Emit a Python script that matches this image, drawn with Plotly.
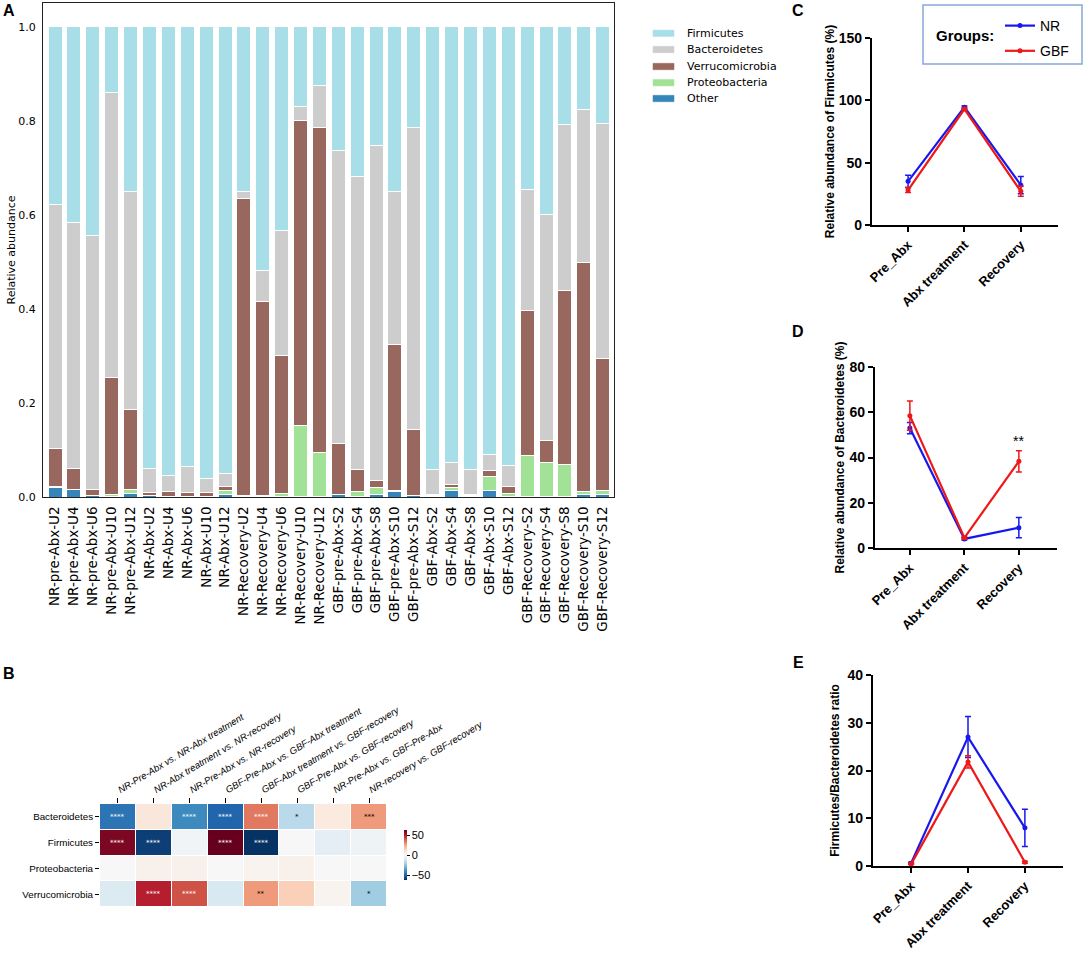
import plotly.graph_objects as go

W, H = 1084, 953

# ---------------- Panel A data ----------------
samples = [
    "NR-pre-Abx-U2", "NR-pre-Abx-U4", "NR-pre-Abx-U6", "NR-pre-Abx-U10", "NR-pre-Abx-U12",
    "NR-Abx-U2", "NR-Abx-U4", "NR-Abx-U6", "NR-Abx-U10", "NR-Abx-U12",
    "NR-Recovery-U2", "NR-Recovery-U4", "NR-Recovery-U6", "NR-Recovery-U10", "NR-Recovery-U12",
    "GBF-pre-Abx-S2", "GBF-pre-Abx-S4", "GBF-pre-Abx-S8", "GBF-pre-Abx-S10", "GBF-pre-Abx-S12",
    "GBF-Abx-S2", "GBF-Abx-S4", "GBF-Abx-S8", "GBF-Abx-S10", "GBF-Abx-S12",
    "GBF-Recovery-S2", "GBF-Recovery-S4", "GBF-Recovery-S8", "GBF-Recovery-S10", "GBF-Recovery-S12",
]
other = [0.021, 0.016, 0.003, 0.001, 0.007, 0.003, 0.001, 0.001, 0.001, 0.005,
         0.002, 0.001, 0.001, 0.001, 0.001, 0.005, 0.002, 0.006, 0.012, 0.003,
         0.001, 0.013, 0.002, 0.013, 0.001, 0.001, 0.001, 0.001, 0.005, 0.005]
proteobacteria = [0.001, 0.001, 0.001, 0.005, 0.009, 0.001, 0.001, 0.001, 0.001, 0.008,
                  0.002, 0.002, 0.006, 0.151, 0.093, 0.001, 0.009, 0.015, 0.001, 0.001,
                  0.003, 0.007, 0.001, 0.031, 0.007, 0.088, 0.073, 0.069, 0.007, 0.008]
verrucomicrobia = [0.081, 0.043, 0.012, 0.248, 0.171, 0.005, 0.009, 0.007, 0.007, 0.010,
                   0.631, 0.412, 0.294, 0.649, 0.693, 0.107, 0.048, 0.014, 0.311, 0.140,
                   0.002, 0.006, 0.003, 0.013, 0.015, 0.308, 0.047, 0.370, 0.486, 0.281]
bacteroidetes = [0.520, 0.523, 0.541, 0.606, 0.462, 0.051, 0.035, 0.055, 0.030, 0.027,
                 0.016, 0.067, 0.265, 0.029, 0.089, 0.625, 0.623, 0.712, 0.326, 0.643,
                 0.052, 0.047, 0.052, 0.034, 0.044, 0.258, 0.480, 0.353, 0.326, 0.500]
firmicutes = [0.377, 0.417, 0.443, 0.140, 0.351, 0.940, 0.954, 0.936, 0.961, 0.950,
              0.349, 0.518, 0.434, 0.170, 0.124, 0.262, 0.318, 0.253, 0.350, 0.213,
              0.942, 0.927, 0.942, 0.909, 0.933, 0.345, 0.399, 0.207, 0.176, 0.206]
taxa_stack = ["Other", "Proteobacteria", "Verrucomicrobia", "Bacteroidetes", "Firmicutes"]
taxa_values = [other, proteobacteria, verrucomicrobia, bacteroidetes, firmicutes]
taxa_colors = ["#3585bb", "#a2e296", "#98675d", "#cdcdcd", "#a8dee8"]
legend_order = ["Firmicutes", "Bacteroidetes", "Verrucomicrobia", "Proteobacteria", "Other"]

# ---------------- Panel B data ----------------
comparisons = [
    "NR-Pre-Abx vs. NR-Abx treatment",
    "NR-Abx treatment vs. NR-recovery",
    "NR-Pre-Abx vs. NR-recovery",
    "GBF-Pre-Abx vs. GBF-Abx treatment",
    "GBF-Abx treatment vs. GBF-recovery",
    "GBF-Pre-Abx vs. GBF-recovery",
    "NR-Pre-Abx vs. GBF-Pre-Abx",
    "NR-recovery vs. GBF-recovery",
]
phyla = ["Bacteroidetes", "Firmicutes", "Proteobacteria", "Verrucomicrobia"]
diff_bacteroidetes = [-46, 7, -40, -50, 33, -17, 6, 27]
diff_firmicutes = [59, -59, -2, 65, -62, 0, -6, -3]
diff_proteobacteria = [0, 3, 3, 0, 2, 3, 0, 0]
diff_verrucomicrobia = [-9, 49, 40, -10, 27, 15, 2, -22]
sig_bacteroidetes = ["****", "", "****", "****", "****", "*", "", "***"]
sig_firmicutes = ["****", "****", "", "****", "****", "", "", ""]
sig_proteobacteria = ["", "", "", "", "", "", "", ""]
sig_verrucomicrobia = ["", "****", "****", "", "**", "", "", "*"]
cbar_ticks = [-50, 0, 50]

# ---------------- Panels C-E data ----------------
stages = ["Pre_Abx", "Abx treatment", "Recovery"]
groups = ["NR", "GBF"]
group_colors = {"NR": "#1818ee", "GBF": "#ee1818"}
firm_mean = {"NR": [35, 94.5, 32], "GBF": [28, 93, 27]}
firm_err = {"NR": [5, 1, 7], "GBF": [2, 1, 4]}
bact_mean = {"NR": [53, 4, 9], "GBF": [58.5, 4.5, 38.3]}
bact_err = {"NR": [2.5, 0.5, 4.5], "GBF": [6.5, 0.5, 4.7]}
ratio_mean = {"NR": [0.6, 27, 8], "GBF": [0.4, 21.8, 0.8]}
ratio_err = {"NR": [0.2, 4.3, 3.9], "GBF": [0.1, 1.3, 0.2]}

HMFONT = "Liberation Sans, Arial"

fig = go.Figure()

# ---- A: stacked bars ----
for name, vals, col in zip(taxa_stack, taxa_values, taxa_colors):
    fig.add_trace(go.Bar(
        x=samples, y=vals, name=name, xaxis="x", yaxis="y", showlegend=False,
        marker=dict(color=col, line=dict(color="white", width=1)),
    ))

# ---- B: heatmap ----
z = [diff_bacteroidetes, diff_firmicutes, diff_proteobacteria, diff_verrucomicrobia]
sig = [sig_bacteroidetes, sig_firmicutes, sig_proteobacteria, sig_verrucomicrobia]
rdbu_r = ["rgb(5,48,97)", "rgb(33,102,172)", "rgb(67,147,195)", "rgb(146,197,222)",
          "rgb(209,229,240)", "rgb(247,247,247)", "rgb(253,219,199)", "rgb(244,165,130)",
          "rgb(214,96,77)", "rgb(178,24,43)", "rgb(103,0,31)"]
cscale = [[i / (len(rdbu_r) - 1), c] for i, c in enumerate(rdbu_r)]
fig.add_trace(go.Heatmap(
    z=z, x=comparisons, y=phyla, xaxis="x2", yaxis="y2",
    colorscale=cscale, zmin=-62.5, zmax=62.5, xgap=1, ygap=1,
    colorbar=dict(x=404 / W, xanchor="left", y=1 - 855 / H, yanchor="middle",
                  len=50 / H, lenmode="fraction", thickness=3, outlinewidth=0,
                  xpad=0, ypad=0,
                  tickvals=cbar_ticks, ticktext=["\u221250", "0", "50"],
                  ticks="outside", ticklen=3, tickcolor="black",
                  tickfont=dict(family=HMFONT, size=11, color="black")),
    hoverinfo="skip",
))
annotations = []
for r, row in enumerate(phyla):
    for c, comp in enumerate(comparisons):
        s = sig[r][c]
        if s:
            dark = abs(z[r][c]) >= 30 and s == "****"
            annotations.append(dict(
                x=comp, y=row, xref="x2", yref="y2", text=s, showarrow=False,
                font=dict(family="DejaVu Sans", size=7, color="white" if dark else "black"),
            ))

# ---- C, D, E: line plots ----
def add_lines(means, errs, xa, ya, show):
    for g in groups:
        fig.add_trace(go.Scatter(
            x=stages, y=means[g], name=g, xaxis=xa, yaxis=ya,
            mode="lines+markers", legend="legend2", legendgroup=g, showlegend=show,
            line=dict(color=group_colors[g], width=2.2),
            marker=dict(color=group_colors[g], size=5),
            error_y=dict(type="data", array=errs[g], color=group_colors[g], thickness=1.5, width=3),
        ))

add_lines(firm_mean, firm_err, "x3", "y3", True)
add_lines(bact_mean, bact_err, "x4", "y4", False)
add_lines(ratio_mean, ratio_err, "x5", "y5", False)

annotations.append(dict(x="Recovery", y=47.5, xref="x4", yref="y4", text="**", showarrow=False,
                        font=dict(family="Liberation Sans", size=14, color="black")))

# panel letters
for letter, px, py in [("A", 9, 11), ("B", 9, 673), ("C", 798, 10), ("D", 798, 331), ("E", 798, 662)]:
    annotations.append(dict(x=px / W, y=1 - py / H, xref="paper", yref="paper", text=letter,
                            showarrow=False, xanchor="center", yanchor="middle",
                            font=dict(family="Liberation Sans", size=16, color="black", weight="bold")))

# manual legend for panel A
shapes = []
leg_y = [33.3, 49.5, 66.5, 82.7, 98.5]
for name, yy in zip(legend_order, leg_y):
    col = taxa_colors[taxa_stack.index(name)]
    shapes.append(dict(type="rect", xref="paper", yref="paper",
                       x0=653 / W, x1=674 / W, y0=1 - (yy + 3.2) / H, y1=1 - (yy - 3.2) / H,
                       fillcolor=col, line=dict(color=col, width=0.5)))
    annotations.append(dict(x=685 / W, y=1 - yy / H, xref="paper", yref="paper", text=name,
                            showarrow=False, xanchor="left", yanchor="middle",
                            font=dict(family="DejaVu Sans", size=11, color="black")))

# group legend frame and title for panel C
shapes.append(dict(type="rect", xref="paper", yref="paper",
                   x0=923 / W, x1=1082 / W, y0=1 - 64 / H, y1=1 - 5 / H,
                   line=dict(color="#8aa6d8", width=1.5), fillcolor="rgba(0,0,0,0)"))
annotations.append(dict(x=965 / W, y=1 - 35 / H, xref="paper", yref="paper", text="Groups:",
                        showarrow=False, xanchor="center", yanchor="middle",
                        font=dict(family="Liberation Sans", size=15, color="black", weight="bold")))

bold_tick = dict(family="Liberation Sans", size=14, color="black", weight="bold")
bold_xtick = dict(family="Liberation Sans", size=13, color="black", weight="bold")
prism = dict(showline=True, linecolor="black", linewidth=2.2, ticks="outside", ticklen=5,
             tickwidth=2, tickcolor="black", showgrid=False, zeroline=False, automargin=False)

def ydom(top, bottom):
    return [1 - bottom / H, 1 - top / H]

fig.update_layout(
    width=W, height=H, margin=dict(l=0, r=0, t=0, b=0, autoexpand=False),
    paper_bgcolor="white", plot_bgcolor="white",
    barmode="stack", bargap=0.26, hovermode=False,
    # A
    xaxis=dict(domain=[43 / W, 614 / W], range=[-0.64, 29.6], type="category",
               tickangle=-90, showline=True, mirror=True, linecolor="#222", linewidth=1,
               ticks="", showgrid=False, ticklabelstandoff=3, automargin=False,
               tickfont=dict(family="DejaVu Sans", size=13.5, color="black")),
    yaxis=dict(domain=ydom(3, 497), range=[0, 1.051], tickvals=[0, 0.2, 0.4, 0.6, 0.8, 1.0],
               tickformat=".1f", showline=True, mirror=True, linecolor="#222", linewidth=1,
               ticks="", showgrid=False, zeroline=False, ticklabelstandoff=4, automargin=False,
               tickfont=dict(family="DejaVu Sans", size=11, color="black"),
               title=dict(text="Relative abundance", standoff=0,
                          font=dict(family="DejaVu Sans", size=11, color="black"))),
    # B
    xaxis2=dict(domain=[100 / W, 387 / W], side="top", anchor="y2", type="category",
                tickvals=comparisons, ticktext=["<i>%s</i>" % c for c in comparisons],
                tickangle=-31, ticks="outside", ticklen=5, tickcolor="black", showgrid=False,
                showline=False, automargin=False,
                tickfont=dict(family=HMFONT, size=9.5, color="black")),
    yaxis2=dict(domain=ydom(804, 907), anchor="x2", autorange="reversed", type="category",
                ticks="outside", ticklen=4, tickcolor="black", showgrid=False, showline=False,
                automargin=False, tickfont=dict(family=HMFONT, size=9.8, color="black")),
    # C
    xaxis3=dict(domain=[872 / W, 1058 / W], anchor="y3", type="category", range=[-0.64, 2.66],
                tickangle=-45, tickfont=bold_xtick, **prism),
    yaxis3=dict(domain=ydom(38, 225), anchor="x3", range=[0, 150], dtick=50, tickfont=bold_tick,
                title=dict(text="Relative abundance of Firmicutes (%)", standoff=2,
                           font=dict(family="Liberation Sans", size=12, color="black", weight="bold")),
                **prism),
    # D
    xaxis4=dict(domain=[875 / W, 1057 / W], anchor="y4", type="category", range=[-0.64, 2.70],
                tickangle=-45, tickfont=bold_xtick, **prism),
    yaxis4=dict(domain=ydom(367, 548), anchor="x4", range=[0, 80], dtick=20, tickfont=bold_tick,
                title=dict(text="Relative abundance of Bacteroidetes (%)", standoff=2,
                           font=dict(family="Liberation Sans", size=12, color="black", weight="bold")),
                **prism),
    # E
    xaxis5=dict(domain=[873 / W, 1063 / W], anchor="y5", type="category", range=[-0.67, 2.67],
                tickangle=-45, tickfont=bold_xtick, **prism),
    yaxis5=dict(domain=ydom(675, 866), anchor="x5", range=[0, 40], dtick=10, tickfont=bold_tick,
                title=dict(text="Firmicutes/Bacteroidetes ratio", standoff=5,
                           font=dict(family="Liberation Sans", size=12, color="black", weight="bold")),
                **prism),
    legend2=dict(x=1000 / W, y=1 - 10 / H, xanchor="left", yanchor="top",
                 borderwidth=0, bgcolor="rgba(0,0,0,0)",
                 font=dict(family="Liberation Sans", size=14, color="black"),
                 tracegroupgap=4),
    annotations=annotations,
    shapes=shapes,
)

fig.write_html("out.html", config={"displayModeBar": False},
               post_script="document.body.style.margin='0';")
